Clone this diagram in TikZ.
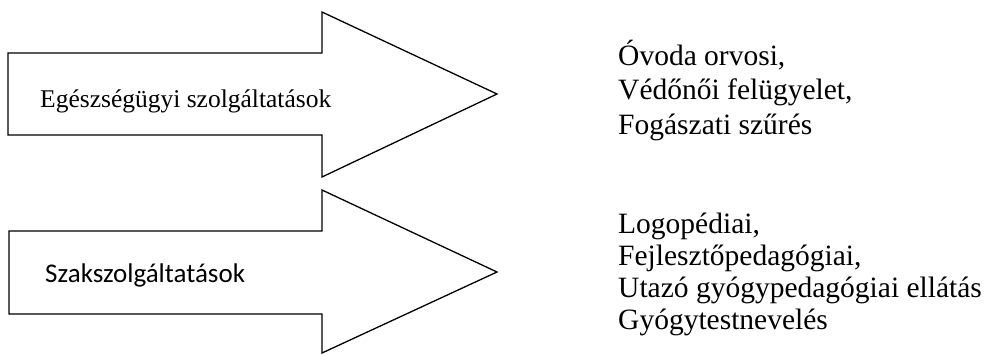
\documentclass[tikz,border=0pt]{standalone}
\usepackage{fontspec}
\setmainfont{Liberation Serif}
\newfontfamily\calib{Carlito}
\begin{document}
\begin{tikzpicture}[x=1pt,y=-1pt,
  blockarrow/.style={draw=black,line width=1.3pt,line join=miter,fill=white},
  lefttext/.style={anchor=base west,inner sep=0pt,font=\fontsize{25.5}{30}\selectfont},
  sanstext/.style={anchor=base west,inner sep=0pt,font=\calib\fontsize{27}{32}\selectfont},
  listtext/.style={anchor=base west,inner sep=0pt,align=left,font=\fontsize{29.5}{34}\selectfont}]
\useasboundingbox (0,0) rectangle (989,354);
% top arrow
\draw[blockarrow] (8,53) -- (322,53) -- (322,12) -- (497,94) -- (322,177) -- (322,135) -- (8,135) -- cycle;
\node[lefttext] (t1) at (40,107) {Egészségügyi szolgáltatások};
% bottom arrow
\draw[blockarrow] (9,231) -- (322,231) -- (322,190) -- (497,272) -- (322,353) -- (322,314) -- (9,314) -- cycle;
\node[sanstext] (t2) at (45,282) {Szakszolgáltatások};
% right lists
\node[listtext] (l1) at (618,65) {Óvoda orvosi,};
\node[listtext] (l2) at (618,99.5) {Védőnői felügyelet,};
\node[listtext] (l3) at (618,134) {Fogászati szűrés};
\node[listtext] (m1) at (618,233) {Logopédiai,};
\node[listtext] (m2) at (618,265) {Fejlesztőpedagógiai,};
\node[listtext] (m3) at (618,297) {Utazó gyógypedagógiai ellátás};
\node[listtext] (m4) at (618,329) {Gyógytestnevelés};
\end{tikzpicture}
\end{document}
